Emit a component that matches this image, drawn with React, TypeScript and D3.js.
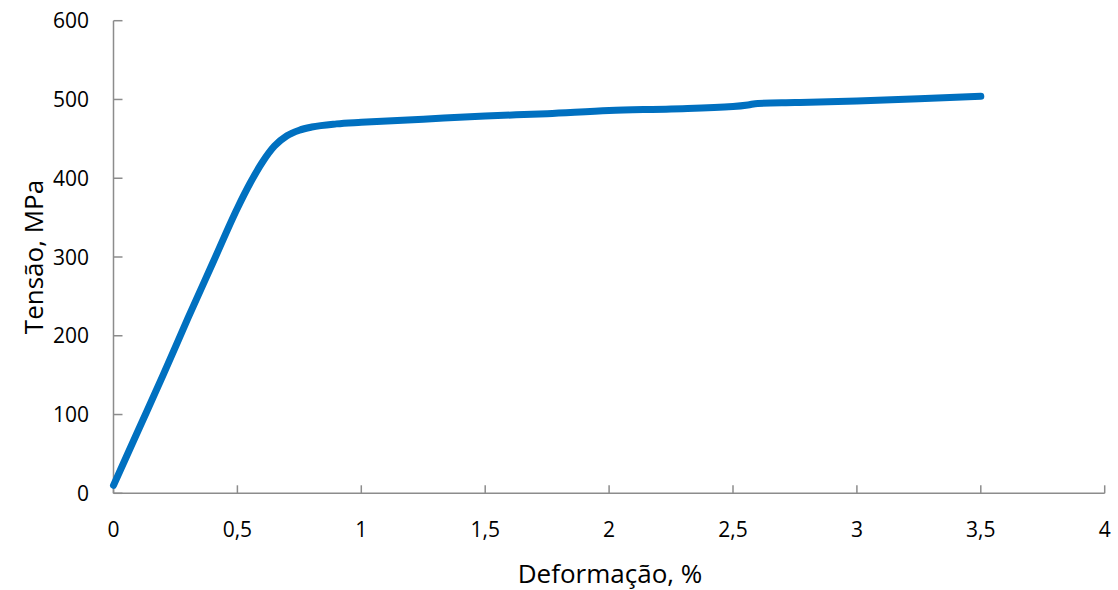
import * as d3 from "d3";

const strain = [0, 0.1, 0.2, 0.3, 0.4, 0.5, 0.55, 0.6, 0.65, 0.7, 0.75, 0.8, 0.9, 1.0, 1.25, 1.5, 1.75, 2.0, 2.25, 2.5, 2.56, 2.6, 2.75, 3.0, 3.25, 3.5];
const stress = [10, 80, 150, 222, 292, 362, 393, 420, 441, 454, 461, 465, 469, 471, 475, 479, 482, 486, 488, 491, 493, 495, 496, 498, 501, 504];
const xTicks = [0, 0.5, 1, 1.5, 2, 2.5, 3, 3.5, 4];
const yTicks = [0, 100, 200, 300, 400, 500, 600];

const width = 1118;
const height = 590;
const margin = { top: 20.7, right: 13.3, bottom: 96.7, left: 113.5 };
const font = "'Open Sans', 'Liberation Sans', sans-serif";
const axisColor = "#8c8c8c";

const fmt = (v: number) => String(v).replace(".", ",");

export default function App() {
  const x = d3.scaleLinear().domain([0, 4]).range([margin.left, width - margin.right]);
  const y = d3.scaleLinear().domain([0, 600]).range([height - margin.bottom, margin.top]);

  const line = d3
    .line<number>()
    .x((_, i) => x(strain[i]))
    .y((d) => y(d))
    .curve(d3.curveMonotoneX);

  const y0 = y(0);
  const x0 = x(0);

  return (
    <svg width={width} height={height} style={{ position: "absolute", left: 0, top: 0, background: "#fff" }}>
      {/* axes */}
      <line x1={x0} x2={x(4)} y1={y0} y2={y0} stroke={axisColor} strokeWidth={1.5} />
      <line x1={x0} x2={x0} y1={y(600)} y2={y0} stroke={axisColor} strokeWidth={1.5} />
      {yTicks.map((t) => (
        <g key={"y" + t}>
          <line x1={x0} x2={x0 + 9} y1={y(t)} y2={y(t)} stroke={axisColor} strokeWidth={1.5} />
          <text x={89} y={y(t)} dy="0.36em" textAnchor="end" fontFamily={font} fontSize={21} fill="#000">
            {t}
          </text>
        </g>
      ))}
      {xTicks.map((t) => (
        <g key={"x" + t}>
          <line x1={x(t)} x2={x(t)} y1={y0} y2={y0 - 8} stroke={axisColor} strokeWidth={1.5} />
          <text x={x(t)} y={537} textAnchor="middle" fontFamily={font} fontSize={21} fill="#000">
            {fmt(t)}
          </text>
        </g>
      ))}
      <path
        d={line(stress) ?? ""}
        fill="none"
        stroke="#0070c0"
        strokeWidth={7}
        strokeLinecap="round"
        strokeLinejoin="round"
      />
      <text x={610} y={583} textAnchor="middle" fontFamily={font} fontSize={26} fill="#000">
        Deformação, %
      </text>
      <text
        transform={`translate(43,257) rotate(-90)`}
        textAnchor="middle"
        fontFamily={font}
        fontSize={26}
        fill="#000"
      >
        Tensão, MPa
      </text>
    </svg>
  );
}
